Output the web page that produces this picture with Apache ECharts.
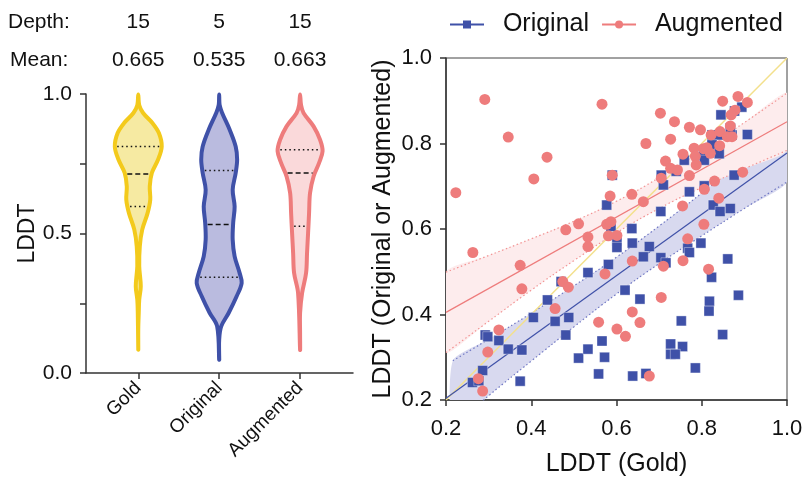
<!DOCTYPE html>
<html><head><meta charset="utf-8">
<script src="https://cdn.jsdelivr.net/npm/echarts@6/dist/echarts.min.js"></script>
<style>html,body{margin:0;padding:0;background:#fff}#c{width:804px;height:477px}</style>
</head><body><div id="c"></div>
<script>
// ---------- DATA ----------
const categories = ['Gold', 'Original', 'Augmented'];
const depthLabels = ['15', '5', '15'];
const meanLabels = ['0.665', '0.535', '0.663'];

// violin outlines: LDDT values and half-widths (category units)
const goldV = [0.084, 0.16, 0.215, 0.263, 0.311, 0.382, 0.454, 0.514, 0.573, 0.621, 0.669, 0.717, 0.765, 0.812, 0.860, 0.896, 0.932, 0.96, 0.998];
const goldW = [0, 0, 0.006, 0.012, 0.031, 0.012, 0.019, 0.049, 0.115, 0.148, 0.142, 0.168, 0.245, 0.290, 0.255, 0.175, 0.060, 0.012, 0];
const origV = [0.048, 0.119, 0.167, 0.215, 0.275, 0.323, 0.358, 0.418, 0.478, 0.538, 0.597, 0.657, 0.717, 0.765, 0.812, 0.872, 0.932, 0.96, 0.998];
const origW = [0, 0, 0.025, 0.117, 0.216, 0.278, 0.253, 0.191, 0.167, 0.173, 0.191, 0.167, 0.204, 0.222, 0.204, 0.130, 0.037, 0.006, 0];
const augV = [0.084, 0.143, 0.215, 0.287, 0.358, 0.430, 0.502, 0.573, 0.645, 0.705, 0.753, 0.795, 0.836, 0.884, 0.932, 0.96, 0.998];
const augW = [0, 0, 0, 0.025, 0.074, 0.086, 0.099, 0.111, 0.123, 0.167, 0.235, 0.278, 0.247, 0.167, 0.043, 0.012, 0];
// quartiles [Q1, median, Q3]
const goldQ = [0.597, 0.713, 0.812];
const origQ = [0.343, 0.532, 0.726];
const augQ = [0.526, 0.717, 0.800];

// scatter: [LDDT gold, LDDT original]
const originalPts = [
 [0.590,0.726],[0.705,0.726],[0.710,0.703],[0.577,0.656],[0.704,0.641],[0.587,0.606],[0.636,0.601],
 [0.845,0.867],[0.894,0.885],[0.877,0.876],[0.871,0.820],[0.907,0.821],[0.824,0.820],[0.839,0.820],
 [0.867,0.836],[0.824,0.797],[0.841,0.776],[0.804,0.773],[0.806,0.761],[0.759,0.761],[0.740,0.735],
 [0.876,0.726],[0.771,0.687],[0.806,0.701],[0.827,0.656],[0.843,0.641],[0.867,0.648],[0.601,0.571],
 [0.601,0.557],[0.637,0.567],[0.677,0.559],[0.663,0.535],[0.704,0.533],[0.716,0.521],[0.767,0.555],
 [0.771,0.545],[0.798,0.567],[0.861,0.530],[0.823,0.487],[0.886,0.445],[0.818,0.431],[0.817,0.408],
 [0.849,0.353],[0.752,0.385],[0.727,0.331],[0.755,0.325],[0.727,0.307],[0.738,0.307],[0.785,0.275],
 [0.669,0.262],[0.638,0.256],[0.558,0.261],[0.572,0.300],[0.511,0.298],[0.533,0.319],[0.566,0.338],
 [0.655,0.436],[0.620,0.457],[0.581,0.517],[0.533,0.498],[0.470,0.477],[0.438,0.434],[0.405,0.393],
 [0.456,0.384],[0.488,0.393],[0.481,0.352],[0.292,0.352],[0.298,0.348],[0.324,0.339],[0.346,0.319],
 [0.378,0.317],[0.286,0.269],[0.262,0.241],[0.277,0.245],[0.374,0.244]
];
// scatter: [LDDT gold, LDDT augmented]
const augmentedPts = [
 [0.291,0.903],[0.346,0.815],[0.437,0.768],[0.406,0.717],[0.223,0.685],[0.566,0.892],[0.703,0.871],
 [0.736,0.851],[0.669,0.800],[0.727,0.810],[0.715,0.759],[0.727,0.742],[0.590,0.726],[0.705,0.719],
 [0.585,0.677],[0.636,0.681],[0.663,0.664],[0.511,0.612],[0.577,0.611],[0.587,0.617],[0.481,0.598],
 [0.849,0.899],[0.885,0.910],[0.907,0.896],[0.878,0.878],[0.869,0.867],[0.771,0.838],[0.797,0.832],
 [0.867,0.841],[0.822,0.820],[0.843,0.828],[0.860,0.816],[0.871,0.816],[0.842,0.795],[0.782,0.789],
 [0.804,0.788],[0.820,0.777],[0.756,0.775],[0.785,0.770],[0.787,0.750],[0.743,0.738],[0.771,0.725],
 [0.896,0.733],[0.830,0.712],[0.806,0.693],[0.840,0.672],[0.755,0.654],[0.805,0.611],[0.812,0.790],
 [0.263,0.545],[0.374,0.515],[0.378,0.460],[0.456,0.414],[0.324,0.364],[0.298,0.312],[0.276,0.250],
 [0.286,0.221],[0.533,0.581],[0.533,0.559],[0.474,0.477],[0.487,0.464],[0.573,0.495],[0.601,0.585],
 [0.581,0.584],[0.637,0.525],[0.710,0.513],[0.756,0.526],[0.767,0.577],[0.816,0.506],[0.705,0.440],
 [0.637,0.406],[0.655,0.381],[0.558,0.382],[0.601,0.366],[0.621,0.349],[0.677,0.256]
];

// regression lines and confidence bands
const origFit = [[0.2, 0.204], [1.0, 0.778]];
const augFit = [[0.2, 0.405], [1.0, 0.851]];
const origBandX = [0.216, 0.3, 0.4, 0.5, 0.6, 0.7, 0.8, 0.9, 1.0];
const origBandHi = [0.292, 0.342, 0.403, 0.467, 0.534, 0.607, 0.684, 0.764, 0.846];
const origBandLo = [0.138, 0.210, 0.291, 0.371, 0.448, 0.519, 0.584, 0.648, 0.710];
const augBandX = [0.2, 0.3, 0.4, 0.5, 0.6, 0.7, 0.8, 0.9, 1.0];
const augBandHi = [0.499, 0.538, 0.577, 0.618, 0.665, 0.720, 0.783, 0.849, 0.918];
const augBandLo = [0.311, 0.384, 0.457, 0.526, 0.591, 0.648, 0.697, 0.741, 0.784];
const identity = [[0.2, 0.2], [1.0, 1.0]];

// ---------- STYLE ----------
const FONT = 'Liberation Sans, Arial, sans-serif';
const BLUE = '#3f51a8', RED = '#ee7c7c', GOLD = '#f3ca1c';
const violinStroke = [GOLD, BLUE, RED];
const violinFill = ['#f6eaa2', '#babbdf', '#fad9da'];
const profiles = [
  {v: goldV, w: goldW, q: goldQ},
  {v: origV, w: origW, q: origQ},
  {v: augV, w: augW, q: augQ}
];
function interpW(p, y) {
  for (let k = 0; k < p.v.length - 1; k++) {
    if (y >= p.v[k] && y <= p.v[k + 1]) {
      const t = (y - p.v[k]) / (p.v[k + 1] - p.v[k]);
      return p.w[k] + t * (p.w[k + 1] - p.w[k]);
    }
  }
  return 0;
}
const zip = (xs, ys) => xs.map((x, i) => [x, ys[i]]);

const chart = echarts.init(document.getElementById('c'), null, {renderer: 'canvas'});

function violinRender(params, api) {
  const i = params.dataIndex;
  const p = profiles[i];
  const right = p.v.map((v, k) => api.coord([i + p.w[k], v]));
  const left = [];
  for (let k = p.v.length - 1; k >= 0; k--) {
    if (p.w[k] > 0) left.push(api.coord([i - p.w[k], p.v[k]]));
  }
  const children = [{
    type: 'polygon',
    shape: {points: right.concat(left), smooth: 0.35},
    style: {fill: violinFill[i], stroke: violinStroke[i], lineWidth: 4, lineJoin: 'round'}
  }];
  p.q.forEach((q, j) => {
    const w = interpW(p, q) - 0.03;
    const a = api.coord([i - w, q]), b = api.coord([i + w, q]);
    children.push({
      type: 'line',
      shape: {x1: a[0], y1: a[1], x2: b[0], y2: b[1]},
      style: {stroke: '#111', lineWidth: 1.5, lineDash: j === 1 ? [5, 3] : [1.5, 3]}
    });
  });
  return {type: 'group', children};
}

function bandRender(xs, hi, lo, fill) {
  return function (params, api) {
    const pts = xs.map((x, k) => api.coord([x, hi[k]]));
    for (let k = xs.length - 1; k >= 0; k--) pts.push(api.coord([xs[k], lo[k]]));
    return {type: 'polygon', shape: {points: pts, smooth: 0.2}, style: {fill}};
  };
}

const axisLine = {show: true, onZero: false, lineStyle: {color: '#333', width: 1.5}};
const axisTick = {show: true, length: 6, lineStyle: {color: '#333', width: 1.5}};
const dotted = [1.5, 2.5];

const option = {
  animation: false,
  textStyle: {fontFamily: FONT},
  legend: {
    data: ['Original', 'Augmented'],
    left: 444, top: 7,
    itemWidth: 34, itemHeight: 10, itemGap: 12,
    formatter: name => '  ' + name,
    textStyle: {fontSize: 25, color: '#111', fontFamily: FONT}
  },
  grid: [
    {left: 86, top: 94, width: 267, height: 279, outerBoundsMode: 'none', containLabel: false},
    {left: 446, top: 58, width: 341, height: 342, outerBoundsMode: 'none', containLabel: false,
     show: true, borderColor: '#444', borderWidth: 1, backgroundColor: 'transparent'}
  ],
  xAxis: [
    {
      gridIndex: 0, type: 'value', min: -0.646, max: 2.654,
      splitLine: {show: false}, axisLine,
      axisTick: Object.assign({}, axisTick, {customValues: [0, 1, 2]}),
      axisLabel: {customValues: [0, 1, 2], rotate: 45, fontSize: 19, color: '#111', margin: 12,
        formatter: val => categories[Math.round(val)]}
    },
    {
      gridIndex: 1, type: 'value', min: 0.2, max: 1.0, interval: 0.2,
      splitLine: {show: false}, axisLine, axisTick,
      axisLabel: {fontSize: 22, color: '#111', margin: 18, formatter: val => val.toFixed(1)},
      name: 'LDDT (Gold)', nameLocation: 'middle', nameGap: 52,
      nameTextStyle: {fontSize: 25, color: '#111'}
    }
  ],
  yAxis: [
    {
      gridIndex: 0, type: 'value', min: 0, max: 1, interval: 0.25,
      splitLine: {show: false}, axisLine, axisTick,
      axisLabel: {fontSize: 21, color: '#111', margin: 14,
        formatter: val => (Math.abs(val * 2 - Math.round(val * 2)) < 1e-6 ? val.toFixed(1) : '')},
      name: 'LDDT', nameLocation: 'middle', nameGap: 47,
      nameTextStyle: {fontSize: 23, color: '#111'}
    },
    {
      gridIndex: 1, type: 'value', min: 0.2, max: 1.0, interval: 0.2,
      splitLine: {show: false}, axisLine, axisTick,
      axisLabel: {fontSize: 22, color: '#111', margin: 14, formatter: val => val.toFixed(1)},
      name: 'LDDT (Original or Augmented)', nameLocation: 'middle', nameGap: 50,
      nameTextStyle: {fontSize: 25, color: '#111'}
    }
  ],
  series: [
    {
      type: 'custom', xAxisIndex: 0, yAxisIndex: 0,
      data: categories.map((c, i) => [i, 0.5]),
      renderItem: violinRender, silent: true
    },
    // Original band + edges
    {type: 'custom', xAxisIndex: 1, yAxisIndex: 1, clip: true, silent: true, data: [[0.6, 0.5]],
     renderItem: bandRender(origBandX, origBandHi, origBandLo, '#d8d9ef'), z: 1},
    {type: 'line', xAxisIndex: 1, yAxisIndex: 1, data: zip(origBandX, origBandHi), smooth: true, showSymbol: false, symbol: 'none',
     lineStyle: {color: '#7078c4', width: 1.2, type: dotted}, z: 1, silent: true},
    {type: 'line', xAxisIndex: 1, yAxisIndex: 1, data: zip(origBandX, origBandLo), smooth: true, showSymbol: false, symbol: 'none',
     lineStyle: {color: '#7078c4', width: 1.2, type: dotted}, z: 1, silent: true},
    // Augmented band (drawn over) + edges
    {type: 'custom', xAxisIndex: 1, yAxisIndex: 1, clip: true, silent: true, data: [[0.6, 0.5]],
     renderItem: bandRender(augBandX, augBandHi, augBandLo, '#fdeced'), z: 2},
    {type: 'line', xAxisIndex: 1, yAxisIndex: 1, data: zip(augBandX, augBandHi), smooth: true, showSymbol: false, symbol: 'none',
     lineStyle: {color: '#f29494', width: 1.2, type: dotted}, z: 2, silent: true},
    {type: 'line', xAxisIndex: 1, yAxisIndex: 1, data: zip(augBandX, augBandLo), smooth: true, showSymbol: false, symbol: 'none',
     lineStyle: {color: '#f29494', width: 1.2, type: dotted}, z: 2, silent: true},
    // identity line
    {type: 'line', xAxisIndex: 1, yAxisIndex: 1, data: identity, showSymbol: false, symbol: 'none',
     lineStyle: {color: '#f3e08c', width: 1.5}, z: 3, silent: true},
    // regression lines (also legend icons)
    {name: 'Original', type: 'line', xAxisIndex: 1, yAxisIndex: 1, data: origFit, symbol: 'rect', symbolSize: 10, showSymbol: false,
     itemStyle: {color: BLUE}, lineStyle: {color: BLUE, width: 1.2}, z: 3, silent: true},
    {name: 'Augmented', type: 'line', xAxisIndex: 1, yAxisIndex: 1, data: augFit, symbol: 'circle', symbolSize: 10, showSymbol: false,
     itemStyle: {color: RED}, lineStyle: {color: RED, width: 1.2}, z: 3, silent: true},
    // points
    {name: 'Original', type: 'scatter', xAxisIndex: 1, yAxisIndex: 1, data: originalPts, symbol: 'rect', symbolSize: 10,
     itemStyle: {color: BLUE, borderColor: 'rgba(255,255,255,0.45)', borderWidth: 0.8, opacity: 1}, z: 4},
    {name: 'Augmented', type: 'scatter', xAxisIndex: 1, yAxisIndex: 1, data: augmentedPts, symbol: 'circle', symbolSize: 11,
     itemStyle: {color: RED, opacity: 1}, z: 5}
  ]
};
chart.setOption(option);

// header rows above violins
const HFONT = '21px ' + FONT;
const graphics = [
  {type: 'text', x: 8, y: 22, style: {text: 'Depth:', font: HFONT, fill: '#111', verticalAlign: 'middle'}},
  {type: 'text', x: 10, y: 60, style: {text: 'Mean:', font: HFONT, fill: '#111', verticalAlign: 'middle'}}
];
categories.forEach((c, i) => {
  const px = chart.convertToPixel({xAxisIndex: 0}, i);
  graphics.push({type: 'text', x: px, y: 22, style: {text: depthLabels[i], font: HFONT, fill: '#111', align: 'center', verticalAlign: 'middle'}});
  graphics.push({type: 'text', x: px, y: 60, style: {text: meanLabels[i], font: HFONT, fill: '#111', align: 'center', verticalAlign: 'middle'}});
});
chart.setOption({graphic: graphics});
</script></body></html>
